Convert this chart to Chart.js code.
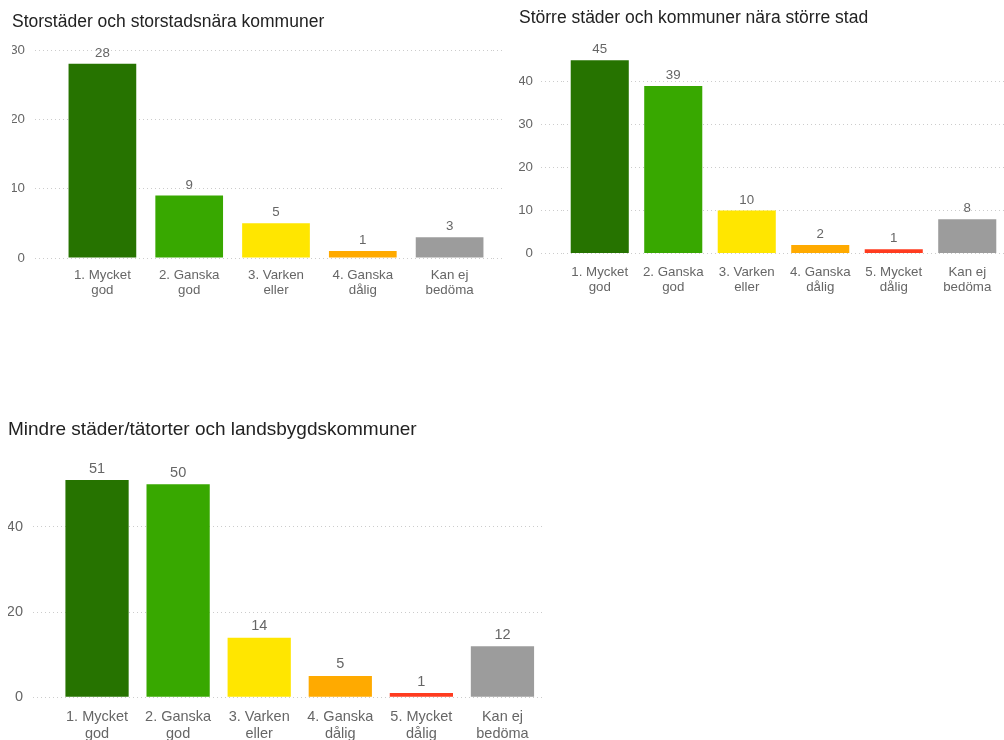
<!DOCTYPE html>
<html>
<head>
<meta charset="utf-8">
<script src="https://cdn.jsdelivr.net/npm/chart.js@4.4.1/dist/chart.umd.min.js"></script>
<style>
  html, body { margin: 0; padding: 0; background: #fff; }
  body { width: 1004px; height: 740px; position: relative; overflow: hidden; }
  .box { position: absolute; }
</style>
</head>
<body>
<div class="box" style="left:0;top:0;width:505px;height:308px"><canvas id="c1"></canvas></div>
<div class="box" style="left:500px;top:0;width:504px;height:304px"><canvas id="c2"></canvas></div>
<div class="box" style="left:0;top:400px;width:543px;height:340px"><canvas id="c3"></canvas></div>
<script>
const FONT = "Arial, 'Liberation Sans', sans-serif";

// Answer categories (two-line axis labels)
const categoriesFive = [['1. Mycket', 'god'], ['2. Ganska', 'god'], ['3. Varken', 'eller'], ['4. Ganska', 'dålig'], ['Kan ej', 'bedöma']];
const categoriesSix = [['1. Mycket', 'god'], ['2. Ganska', 'god'], ['3. Varken', 'eller'], ['4. Ganska', 'dålig'], ['5. Mycket', 'dålig'], ['Kan ej', 'bedöma']];

// Bar colours per answer
const coloursFive = ['#267300', '#38a800', '#ffe600', '#ffaa00', '#9c9c9c'];
const coloursSix = ['#267300', '#38a800', '#ffe600', '#ffaa00', '#ff3b1f', '#9c9c9c'];

// Number of answers per municipality group
const storstadValues = [28, 9, 5, 1, 3];
const storreStadValues = [45, 39, 10, 2, 1, 8];
const mindreStadValues = [51, 50, 14, 5, 1, 12];

// Chart titles
const titleStorstad = 'Storstäder och storstadsnära kommuner';
const titleStorreStad = 'Större städer och kommuner nära större stad';
const titleMindreStad = 'Mindre städer/tätorter och landsbygdskommuner';

// Value axis: top of scale and step between labelled gridlines
const axisMax = [30, 48, 56];
const axisStep = [10, 10, 20];

// Writes each bar's value above it
const valueLabels = {
  id: 'valueLabels',
  afterDatasetsDraw(chart, args, opts) {
    const ctx = chart.ctx;
    const meta = chart.getDatasetMeta(0);
    const values = chart.data.datasets[0].data;
    ctx.save();
    ctx.font = opts.size + 'px ' + FONT;
    ctx.fillStyle = '#666';
    ctx.textAlign = 'center';
    ctx.textBaseline = 'middle';
    meta.data.forEach((bar, i) => {
      ctx.fillText(String(values[i]), bar.x, bar.y - opts.offset);
    });
    ctx.restore();
  }
};

function makeChart(id, p) {
  const keepSteps = scale => {
    scale.ticks = scale.ticks.filter(t => t.value % p.step === 0);
  };
  const scales = {
    x: {
      grid: { display: false, drawTicks: false },
      border: { display: false },
      ticks: {
        color: '#666',
        font: { family: FONT, size: p.fontSize, lineHeight: p.labelLine },
        padding: p.xPad,
        maxRotation: 0,
        autoSkip: false
      },
      afterFit: s => { s.height = p.xHeight; }
    },
    y: {
      min: 0,
      max: p.max,
      ticks: { stepSize: p.step, color: '#666', font: { family: FONT, size: p.fontSize }, padding: p.tickPad },
      grid: { color: '#cccccc', tickColor: '#cccccc', tickLength: p.tickLen, tickBorderDash: [1, 3] },
      border: { display: false, dash: [1, 3] },
      afterBuildTicks: keepSteps,
      afterFit: s => { s.width = p.yWidth; }
    }
  };
  if (p.rightTick) {
    scales.y2 = {
      position: 'right',
      min: 0,
      max: p.max,
      ticks: { display: false, stepSize: p.step },
      grid: { drawOnChartArea: false, tickColor: '#cccccc', tickLength: p.rightTick, tickBorderDash: [1, 3] },
      border: { display: false },
      afterBuildTicks: keepSteps,
      afterFit: s => { s.width = p.rightTick; }
    };
  }
  return new Chart(document.getElementById(id), {
    type: 'bar',
    data: {
      labels: p.labels,
      datasets: [{
        data: p.values,
        backgroundColor: p.colours,
        borderWidth: 0,
        barPercentage: p.barPct,
        categoryPercentage: 1
      }]
    },
    options: {
      responsive: true,
      maintainAspectRatio: false,
      animation: false,
      layout: { padding: { left: p.padLeft, right: 0, top: 0, bottom: 0 } },
      plugins: {
        legend: { display: false },
        tooltip: { enabled: false },
        title: {
          display: true,
          text: p.title,
          align: 'start',
          color: '#222',
          font: { family: FONT, size: p.titleSize, weight: 'normal', lineHeight: 1.2 },
          padding: { top: p.titleTop, bottom: p.titleBottom }
        },
        valueLabels: { size: p.fontSize, offset: p.labelOffset }
      },
      scales: scales
    },
    plugins: [valueLabels]
  });
}

makeChart('c1', {
  labels: categoriesFive, values: storstadValues, colours: coloursFive, title: titleStorstad,
  max: axisMax[0], step: axisStep[0],
  titleSize: 17.5, titleTop: 11.4, titleBottom: 17.6,
  padLeft: 12, yWidth: 47, tickLen: 24, tickPad: 10, rightTick: 12,
  fontSize: 13.3, labelLine: 1.1, xPad: 10, xHeight: 50, barPct: 0.78, labelOffset: 10.5
});

makeChart('c2', {
  labels: categoriesSix, values: storreStadValues, colours: coloursSix, title: titleStorreStad,
  max: axisMax[1], step: axisStep[1],
  titleSize: 17.5, titleTop: 7.4, titleBottom: 18.9,
  padLeft: 19, yWidth: 44, tickLen: 22, tickPad: 8,
  fontSize: 13.3, labelLine: 1.1, xPad: 11.5, xHeight: 50.5, barPct: 0.79, labelOffset: 10.5
});

makeChart('c3', {
  labels: categoriesSix, values: mindreStadValues, colours: coloursSix, title: titleMindreStad,
  max: axisMax[2], step: axisStep[2],
  titleSize: 19, titleTop: 18.7, titleBottom: 17.2,
  padLeft: 8, yWidth: 48.5, tickLen: 23.5, tickPad: 10,
  fontSize: 14.5, labelLine: 1.17, xPad: 11, xHeight: 42.7, barPct: 0.78, labelOffset: 11.5
});
</script>
</body>
</html>
